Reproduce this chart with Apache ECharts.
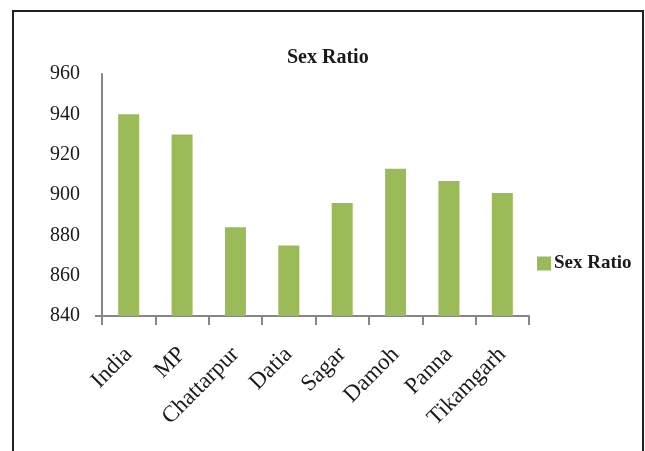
<!DOCTYPE html>
<html>
<head>
<meta charset="utf-8">
<script src="https://cdn.jsdelivr.net/npm/echarts@6/dist/echarts.min.js"></script>
<style>
html,body{margin:0;padding:0;background:#fff;}
#c{width:645px;height:451px;}
</style>
</head>
<body>
<div id="c"></div>
<script>
const categories = ['India', 'MP', 'Chattarpur', 'Datia', 'Sagar', 'Damoh', 'Panna', 'Tikamgarh'];
const sexRatio = [940, 930, 884, 875, 896, 913, 907, 901];
const yTicks = [840, 860, 880, 900, 920, 940, 960];

const chart = echarts.init(document.getElementById('c'));
const serif = '"Liberation Serif", "Times New Roman", serif';
chart.setOption({
  animation: false,
  backgroundColor: '#fff',
  title: {
    text: 'Sex Ratio',
    left: 282,
    top: 43,
    textStyle: { fontFamily: serif, fontWeight: 'bold', fontSize: 20, color: '#1a1a1a' }
  },
  legend: {
    data: ['Sex Ratio'],
    left: 532,
    top: 249,
    itemWidth: 14,
    itemHeight: 14,
    itemGap: 4,
    icon: 'rect',
    textStyle: { fontFamily: serif, fontWeight: 'bold', fontSize: 19, color: '#1a1a1a', padding: [0, 0, 0, -2] }
  },
  grid: { left: 102, right: 116, top: 74, bottom: 135 },
  xAxis: {
    type: 'category',
    data: categories,
    axisLine: { lineStyle: { color: '#868686', width: 2 } },
    axisTick: { show: true, length: 9, lineStyle: { color: '#868686', width: 2 } },
    axisLabel: { rotate: 45, margin: 35, fontFamily: serif, fontSize: 23, color: '#1a1a1a' }
  },
  yAxis: {
    type: 'value',
    min: yTicks[0],
    max: yTicks[yTicks.length - 1],
    interval: 20,
    splitLine: { show: false },
    axisLine: { show: true, lineStyle: { color: '#868686', width: 2 } },
    axisTick: { show: true, length: 7, customValues: [yTicks[0]], lineStyle: { color: '#868686', width: 2 } },
    axisLabel: { margin: 22, fontFamily: serif, fontSize: 20, color: '#1a1a1a' }
  },
  series: [{
    name: 'Sex Ratio',
    type: 'bar',
    data: sexRatio,
    barWidth: 21,
    itemStyle: { color: '#9bbb59' }
  }],
  graphic: [{
    type: 'rect',
    shape: { x: 13, y: 11, width: 630, height: 460 },
    style: { fill: 'none', stroke: '#231f20', lineWidth: 2 },
    silent: true
  }]
});
</script>
</body>
</html>
